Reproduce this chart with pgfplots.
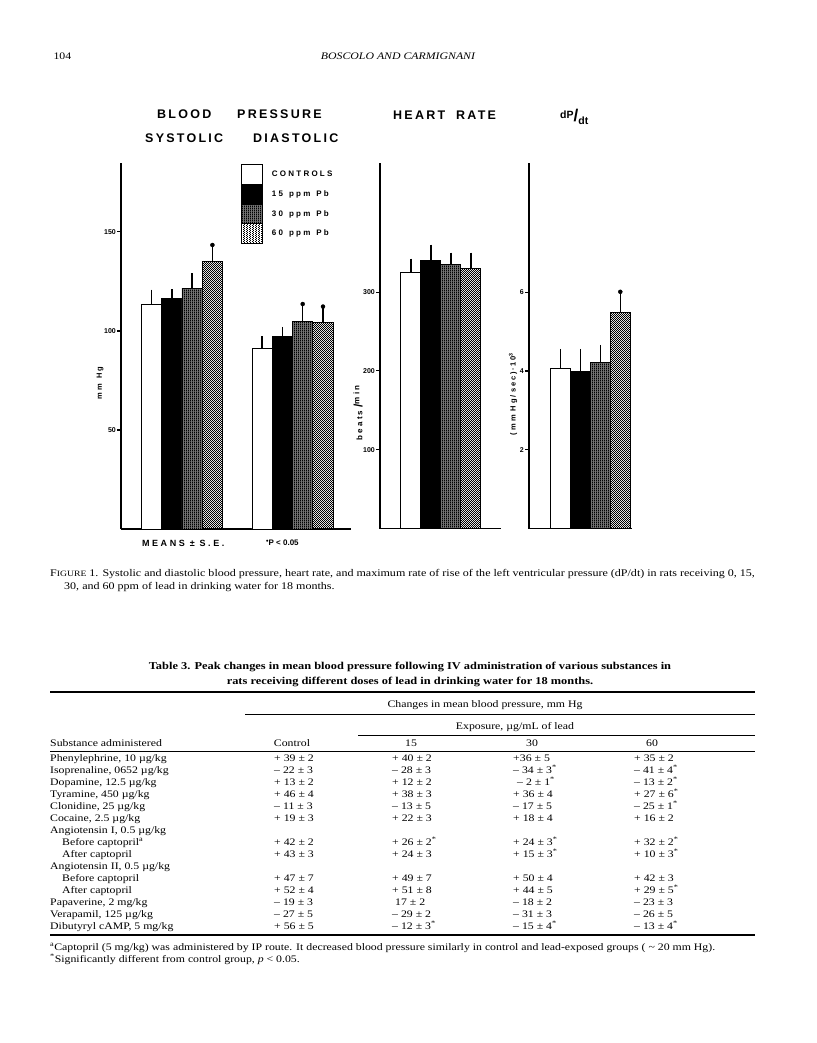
\documentclass[border=0pt]{standalone}
\usepackage{fontspec}
\setmainfont{Liberation Serif}[FakeStretch=1.18]
\newfontfamily\figA[LetterSpace=18]{Liberation Sans}
\newfontfamily\figB[LetterSpace=28]{Liberation Sans}
\newfontfamily\plainsans{Liberation Sans}
\usepackage{pgfplots}
\pgfplotsset{compat=1.18}
\usetikzlibrary{patterns.meta}

\tikzdeclarepattern{name=vstripes, type=uncolored,
  bounding box={(0pt,0pt) and (2pt,2pt)}, tile size={(2pt,2pt)},
  code={\fill (0pt,0pt) rectangle (1.2pt,2pt);}}
\tikzdeclarepattern{name=checker, type=uncolored,
  bounding box={(0pt,0pt) and (2.4pt,2.4pt)}, tile size={(2.4pt,2.4pt)},
  code={\fill (0pt,0pt) rectangle (1pt,1pt); \fill (1.2pt,1.2pt) rectangle (2.2pt,2.2pt);}}

\pgfplotsset{
  panel/.style={scale only axis, axis x line=bottom, axis y line=left,
    axis line style={line width=1.2pt,-}, xtick=\empty, ymin=0,
    tick align=outside, major tick length=4pt,
    ytick style={line width=1.1pt, black},
    /pgf/number format/assume math mode=true,
    yticklabel style={font=\plainsans\bfseries\fontsize{7}{7}\selectfont, inner sep=1pt},
    clip=false},
  barbase/.style={ybar, bar shift=0pt, draw=black, line width=0.9pt, forget plot,
    error bars/y dir=plus, error bars/y explicit,
    error bars/error bar style={line width=1.4pt, solid, black},
    error bars/error mark options={line width=1.4pt, mark size=4pt, black}},
  cC/.style={barbase, fill=white},
  c15/.style={barbase, fill=black},
  c30/.style={barbase, fill=black!55, postaction={pattern=vstripes, pattern color=black}},
  c60/.style={barbase, pattern=checker, pattern color=black},
  star/.style={only marks, mark=*, mark size=2pt, black, forget plot},
}

\newcommand\trow[6]{%
  \node[anchor=base west] at (50,-#1) {#2};
  \node[anchor=base west] at (274,-#1) {#3};
  \node[anchor=base west] at (392,-#1) {#4};
  \node[anchor=base west] at (513,-#1) {#5};
  \node[anchor=base west] at (634,-#1) {#6};}
\newcommand\sig{\textsuperscript{*}}

\begin{document}
\begin{tikzpicture}[x=1pt,y=1pt]
\fill[white] (0,0) rectangle (816,-1043);
\path[use as bounding box] (0,0) rectangle (816,-1043);

% running head
\node[anchor=base west, font=\fontsize{10}{12}\selectfont] at (50,-60) {104};
\node[anchor=base, font=\itshape\fontsize{10}{12}\selectfont] at (398,-60) {BOSCOLO AND CARMIGNANI};

% panel titles
\begin{scope}[every node/.style={font=\figA\bfseries\fontsize{12.5}{13}\selectfont, inner sep=0pt}]
\node[anchor=west] at (157,-114) {BLOOD};
\node[anchor=west] at (237,-114) {PRESSURE};
\node[anchor=west] at (145,-138) {SYSTOLIC};
\node[anchor=west] at (253,-138) {DIASTOLIC};
\node[anchor=west] at (393,-115) {HEART};
\node[anchor=west] at (456,-115) {RATE};
\end{scope}
\node[anchor=west, inner sep=0pt, font=\plainsans\bfseries] at (560,-117)
  {\fontsize{10.5}{10}\selectfont\raisebox{3.5pt}{dP}\fontsize{17}{17}\selectfont/\fontsize{10.5}{10}\selectfont\raisebox{-3pt}{dt}};

% ---------------- Blood pressure panel ----------------
\begin{axis}[panel, at={(121pt,-529pt)}, anchor=south west,
  width=230pt, height=366pt, xmin=121, xmax=351, ymax=184.8,
  ytick={50,100,150},
  legend image code/.code={\draw[#1] (0pt,-9.9pt) rectangle (21pt,9.9pt);},
  legend style={at={(axis description cs:0.5217,0.9973)}, anchor=north west,
    draw=none, fill=none, inner sep=0pt, outer sep=0pt, row sep=-0.9pt,
    font=\figB\bfseries\fontsize{8}{8}\selectfont,
    nodes={inner sep=0pt, outer sep=0pt, anchor=west},
    /tikz/every odd column/.append style={column sep=9pt}},
  ]
\addplot[cC, bar width=20.3] coordinates {(151.5,113.5) +- (0,5.3) (262.1,91.1) +- (0,4.2)};
\addplot[c15, bar width=20.3] coordinates {(171.8,116.5) +- (0,2.5) (282.4,97.2) +- (0,2.8)};
\addplot[c30, bar width=20.3] coordinates {(192.1,121.6) +- (0,5.4) (302.7,105.0) +- (0,6.0)};
\addplot[c60, bar width=20.3] coordinates {(212.4,134.9) +- (0,6.6) (323.0,104.2) +- (0,5.6)};
\addplot[star] coordinates {(212.4,143.4) (302.7,113.6) (323.0,112.3)};
\addlegendimage{fill=white, draw=black, line width=0.9pt}
\addlegendentry{CONTROLS}
\addlegendimage{fill=black, draw=black, line width=0.9pt}
\addlegendentry{15\hspace{6pt}ppm\hspace{6pt}Pb}
\addlegendimage{fill=black!55, postaction={pattern=vstripes, pattern color=black}, draw=black, line width=0.9pt}
\addlegendentry{30\hspace{6pt}ppm\hspace{6pt}Pb}
\addlegendimage{pattern=checker, draw=black, line width=0.9pt}
\addlegendentry{60\hspace{6pt}ppm\hspace{6pt}Pb}
\end{axis}

% ---------------- Heart rate panel ----------------
\begin{axis}[panel, at={(380pt,-528.5pt)}, anchor=south west,
  width=121pt, height=365.5pt, xmin=380, xmax=501, ymax=463.8,
  ytick={100,200,300}]
\addplot[cC, bar width=20] coordinates {(410.8,324.6) +- (0,12.7)};
\addplot[c15, bar width=20] coordinates {(430.8,339.8) +- (0,15.2)};
\addplot[c30, bar width=20] coordinates {(450.8,334.8) +- (0,10.2)};
\addplot[c60, bar width=20] coordinates {(470.8,329.7) +- (0,15.3)};
\end{axis}

% ---------------- dP/dt panel ----------------
\begin{axis}[panel, at={(529pt,-528.5pt)}, anchor=south west,
  width=103pt, height=365.5pt, xmin=529, xmax=632, ymax=9.28,
  ytick={2,4,6}]
\addplot[cC, bar width=20] coordinates {(560.3,4.07) +- (0,0.39)};
\addplot[c15, bar width=20] coordinates {(580.3,3.98) +- (0,0.48)};
\addplot[c30, bar width=20] coordinates {(600.3,4.21) +- (0,0.35)};
\addplot[c60, bar width=20] coordinates {(620.3,5.48) +- (0,0.40)};
\addplot[star] coordinates {(620.3,6.01)};
\end{axis}

% axis labels
\node[rotate=90, inner sep=0pt, font=\figB\bfseries\fontsize{7.5}{7}\selectfont] at (100,-383) {mm\hspace{5pt}Hg};
\node[rotate=90, inner sep=0pt, font=\figB\bfseries\fontsize{8}{8}\selectfont] at (358,-413)
  {beats\hspace{3pt}{\fontsize{12}{12}\selectfont/}\raisebox{3pt}{min}};
\node[rotate=90, inner sep=0pt, font=\figB\bfseries\fontsize{7.5}{7}\selectfont] at (513,-394)
  {(mm\hspace{4pt}Hg/sec)\,·\,10\textsuperscript{3}};
\node[anchor=west, inner sep=0pt, font=\figB\bfseries\fontsize{9}{9}\selectfont] at (142,-543) {MEANS\hspace{5pt}±\hspace{5pt}S.E.};
\node[anchor=west, inner sep=0pt, font=\plainsans\bfseries\fontsize{8}{9}\selectfont] at (266,-543) {\raisebox{2.5pt}{\fontsize{7}{7}\selectfont•}P < 0.05};

% caption
\begin{scope}[every node/.style={anchor=base west, inner sep=0pt, font=\fontsize{10.2}{12}\selectfont}]
\node at (50,-576) {F{\fontsize{8.2}{10}\selectfont IGURE} 1. Systolic and diastolic blood pressure, heart rate, and maximum rate of rise of the left ventricular pressure (dP/dt) in rats receiving 0, 15,};
\node at (64,-589) {30, and 60 ppm of lead in drinking water for 18 months.};
\end{scope}

% table
\node[anchor=base, align=center, font=\bfseries\fontsize{10.5}{15}\selectfont] at (410,-684)
  {Table 3. Peak changes in mean blood pressure following IV administration of various substances in\\rats receiving different doses of lead in drinking water for 18 months.};
\draw[line width=1.1pt] (50,-692) -- (755,-692);
\begin{scope}[every node/.style={inner sep=0pt, font=\fontsize{10}{12}\selectfont}]
\node[anchor=base] at (485,-707) {Changes in mean blood pressure, mm Hg};
\draw[line width=0.6pt] (245,-714) -- (755,-714);
\node[anchor=base] at (515,-729) {Exposure, µg/mL of lead};
\draw[line width=0.6pt] (358,-735) -- (755,-735);
\node[anchor=base west] at (50,-746) {Substance administered};
\node[anchor=base] at (292,-746) {Control};
\node[anchor=base] at (411,-746) {15};
\node[anchor=base] at (532,-746) {30};
\node[anchor=base] at (652,-746) {60};
\draw[line width=0.6pt] (50,-751) -- (755,-751);
\trow{761}{Phenylephrine, 10 µg/kg}{+ 39 ± 2}{+ 40 ± 2}{+36 ± 5}{+ 35 ± 2}
\trow{773}{Isoprenaline, 0652 µg/kg}{– 22 ± 3}{– 28 ± 3}{– 34 ± 3\sig}{– 41 ± 4\sig}
\trow{785}{Dopamine, 12.5 µg/kg}{+ 13 ± 2}{+ 12 ± 2}{\hspace{4pt}– 2 ± 1\sig}{– 13 ± 2\sig}
\trow{797}{Tyramine, 450 µg/kg}{+ 46 ± 4}{+ 38 ± 3}{+ 36 ± 4}{+ 27 ± 6\sig}
\trow{809}{Clonidine, 25 µg/kg}{– 11 ± 3}{– 13 ± 5}{– 17 ± 5}{– 25 ± 1\sig}
\trow{821}{Cocaine, 2.5 µg/kg}{+ 19 ± 3}{+ 22 ± 3}{+ 18 ± 4}{+ 16 ± 2}
\node[anchor=base west] at (50,-833) {Angiotensin I, 0.5 µg/kg};
\trow{845}{\hspace*{12pt}Before captopril\textsuperscript{a}}{+ 42 ± 2}{+ 26 ± 2\sig}{+ 24 ± 3\sig}{+ 32 ± 2\sig}
\trow{857}{\hspace*{12pt}After captopril}{+ 43 ± 3}{+ 24 ± 3}{+ 15 ± 3\sig}{+ 10 ± 3\sig}
\node[anchor=base west] at (50,-869) {Angiotensin II, 0.5 µg/kg};
\trow{881}{\hspace*{12pt}Before captopril}{+ 47 ± 7}{+ 49 ± 7}{+ 50 ± 4}{+ 42 ± 3}
\trow{893}{\hspace*{12pt}After captopril}{+ 52 ± 4}{+ 51 ± 8}{+ 44 ± 5}{+ 29 ± 5\sig}
\trow{905}{Papaverine, 2 mg/kg}{– 19 ± 3}{\hspace{3pt}17 ± 2}{– 18 ± 2}{– 23 ± 3}
\trow{917}{Verapamil, 125 µg/kg}{– 27 ± 5}{– 29 ± 2}{– 31 ± 3}{– 26 ± 5}
\trow{929}{Dibutyryl cAMP, 5 mg/kg}{+ 56 ± 5}{– 12 ± 3\sig}{– 15 ± 4\sig}{– 13 ± 4\sig}
\draw[line width=1.1pt] (50,-935) -- (755,-935);
\node[anchor=base west] at (50,-950) {\textsuperscript{a}Captopril (5 mg/kg) was administered by IP route. It decreased blood pressure similarly in control and lead-exposed groups ( \textasciitilde\ 20 mm Hg).};
\node[anchor=base west] at (50,-962) {\textsuperscript{*}Significantly different from control group, \textit{p} < 0.05.};
\end{scope}
\end{tikzpicture}
\end{document}
